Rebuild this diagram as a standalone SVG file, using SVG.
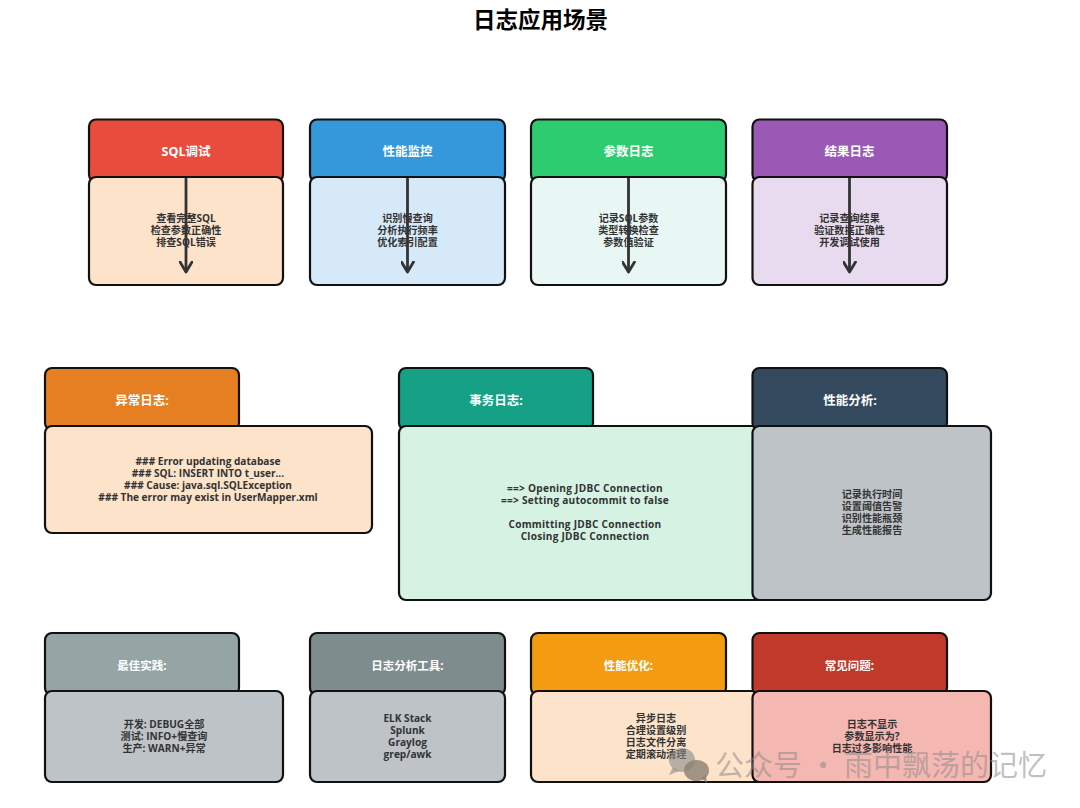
<svg xmlns="http://www.w3.org/2000/svg" width="1080" height="808" viewBox="0 0 1080 808">
<defs>
<marker id="arr" viewBox="0 0 14 14" refX="11.500" refY="7" markerWidth="14" markerHeight="14" markerUnits="userSpaceOnUse" orient="auto"><path d="M1.500 1L11.500 7L1.500 13" fill="none" stroke="#333" stroke-width="2.800" stroke-linecap="round" stroke-linejoin="round"/></marker>
</defs>
<style>
text{font-family:"Open Sans","Noto Sans CJK SC",sans-serif;font-weight:700;text-anchor:middle}
.box{stroke:#111;stroke-width:2.200}
.h{fill:#fff;font-size:12.500px}
.b{fill:#333;font-size:10.100px}
.s{letter-spacing:.25px}
.t{fill:#000;font-size:22.500px}
.c{fill:none;stroke:#333;stroke-width:2.800px;marker-end:url(#arr)}
.wm{fill:#8a8a8a;fill-opacity:.55;font-size:29px;font-weight:400;text-anchor:start;font-family:"Noto Sans CJK SC",sans-serif}
</style>
<rect width="1080" height="808" fill="#fff"/>
<text class="t" x="540.500" y="28">日志应用场景</text>

<g id="n-sql"><rect class="box" x="89" y="119.500" width="194" height="62" rx="7" fill="#e74c3c"/><rect class="box" x="89" y="177" width="194" height="108" rx="7" fill="#fde3ca"/><text class="h" x="186" y="155.500">SQL调试</text><text class="b" x="186" y="222">查看完整SQL</text><text class="b" x="186" y="234">检查参数正确性</text><text class="b" x="186" y="246">排查SQL错误</text></g>
<g id="n-perf"><rect class="box" x="310" y="119.500" width="195" height="62" rx="7" fill="#3498db"/><rect class="box" x="310" y="177" width="195" height="108" rx="7" fill="#d6e9f8"/><text class="h" x="407.500" y="155.500">性能监控</text><text class="b" x="407.500" y="222">识别慢查询</text><text class="b" x="407.500" y="234">分析执行频率</text><text class="b" x="407.500" y="246">优化索引配置</text></g>
<g id="n-param"><rect class="box" x="531" y="119.500" width="195" height="62" rx="7" fill="#2ecc71"/><rect class="box" x="531" y="177" width="195" height="108" rx="7" fill="#e8f7f3"/><text class="h" x="628.500" y="155.500">参数日志</text><text class="b" x="628.500" y="222">记录SQL参数</text><text class="b" x="628.500" y="234">类型转换检查</text><text class="b" x="628.500" y="246">参数值验证</text></g>
<g id="n-result"><rect class="box" x="752.500" y="119.500" width="194.500" height="62" rx="7" fill="#9b59b6"/><rect class="box" x="752.500" y="177" width="194.500" height="108" rx="7" fill="#e8daef"/><text class="h" x="849.500" y="155.500">结果日志</text><text class="b" x="849.500" y="222">记录查询结果</text><text class="b" x="849.500" y="234">验证数据正确性</text><text class="b" x="849.500" y="246">开发调试使用</text></g>

<g id="connectors">
<path class="c" d="M186 178V272"/><path class="c" d="M407.500 178V272"/><path class="c" d="M628.500 178V272"/><path class="c" d="M849.500 178V272"/>
</g>

<g id="n-exception"><rect class="box" x="45" y="368" width="194" height="62" rx="7" fill="#e67e22"/><rect class="box" x="45" y="426" width="327" height="107" rx="7" fill="#fde3ca"/><text class="h" x="142" y="404.500">异常日志:</text><text class="b" x="208" y="465">### Error updating database</text><text class="b" x="208" y="477">### SQL: INSERT INTO t_user...</text><text class="b" x="208" y="489">### Cause: java.sql.SQLException</text><text class="b" x="208" y="501">### The error may exist in UserMapper.xml</text></g>
<g id="n-tx"><rect class="box" x="399" y="368" width="194" height="62" rx="7" fill="#16a085"/><rect class="box" x="399" y="426" width="372" height="174" rx="7" fill="#d5f2e3"/><text class="h" x="496" y="404.500">事务日志:</text><text class="b s" x="585" y="492">==&gt; Opening JDBC Connection</text><text class="b s" x="585" y="504">==&gt; Setting autocommit to false</text><text class="b s" x="585" y="528">Committing JDBC Connection</text><text class="b s" x="585" y="540">Closing JDBC Connection</text></g>
<g id="n-analysis"><rect class="box" x="752.500" y="368" width="194.500" height="62" rx="7" fill="#34495e"/><rect class="box" x="752.500" y="426" width="238.500" height="174" rx="7" fill="#bdc3c7"/><text class="h" x="850" y="404.500">性能分析:</text><text class="b" x="872" y="498">记录执行时间</text><text class="b" x="872" y="510">设置阈值告警</text><text class="b" x="872" y="522">识别性能瓶颈</text><text class="b" x="872" y="534">生成性能报告</text></g>

<g id="n-best"><rect class="box" x="45" y="633" width="194" height="62" rx="7" fill="#95a5a6"/><rect class="box" x="45" y="691" width="238" height="91" rx="7" fill="#bdc3c7"/><text class="h" x="142" y="669.500" style="font-size:11.500px">最佳实践:</text><text class="b" x="164" y="728">开发: DEBUG全部</text><text class="b" x="164" y="740">测试: INFO+慢查询</text><text class="b" x="164" y="752">生产: WARN+异常</text></g>
<g id="n-tools"><rect class="box" x="310" y="633" width="195" height="62" rx="7" fill="#7f8c8d"/><rect class="box" x="310" y="691" width="195" height="91" rx="7" fill="#bdc3c7"/><text class="h" x="407.500" y="669.500" style="font-size:11.500px">日志分析工具:</text><text class="b" x="407.500" y="722">ELK Stack</text><text class="b" x="407.500" y="734">Splunk</text><text class="b" x="407.500" y="746">Graylog</text><text class="b" x="407.500" y="758">grep/awk</text></g>
<g id="n-opt"><rect class="box" x="531" y="633" width="195" height="62" rx="7" fill="#f39c12"/><rect class="box" x="531" y="691" width="240" height="91" rx="7" fill="#fde3ca"/><text class="h" x="628.500" y="669.500" style="font-size:11.500px">性能优化:</text><text class="b" x="656" y="722">异步日志</text><text class="b" x="656" y="734">合理设置级别</text><text class="b" x="656" y="746">日志文件分离</text><text class="b" x="656" y="758">定期滚动清理</text></g>
<g id="n-issues"><rect class="box" x="752.500" y="633" width="194.500" height="62" rx="7" fill="#c0392b"/><rect class="box" x="752.500" y="691" width="238.500" height="91" rx="7" fill="#f5b7b1"/><text class="h" x="849.500" y="669.500" style="font-size:11.500px">常见问题:</text><text class="b" x="872" y="728">日志不显示</text><text class="b" x="872" y="740">参数显示为?</text><text class="b" x="872" y="752">日志过多影响性能</text></g>

<g id="watermark">
<ellipse cx="682" cy="760" rx="13" ry="12" fill="#8a8a8a" fill-opacity=".6"/><path d="M673 767l-4 8 10-4z" fill="#8a8a8a" fill-opacity=".6"/>
<ellipse cx="696.500" cy="770.500" rx="12.500" ry="10.500" fill="#8a7f72" fill-opacity=".8"/><path d="M701 778l6 5-1-8z" fill="#8a7f72" fill-opacity=".8"/>
<text class="wm" x="715" y="776">公众号 · 雨中飘荡的记忆</text>
</g>
</svg>
